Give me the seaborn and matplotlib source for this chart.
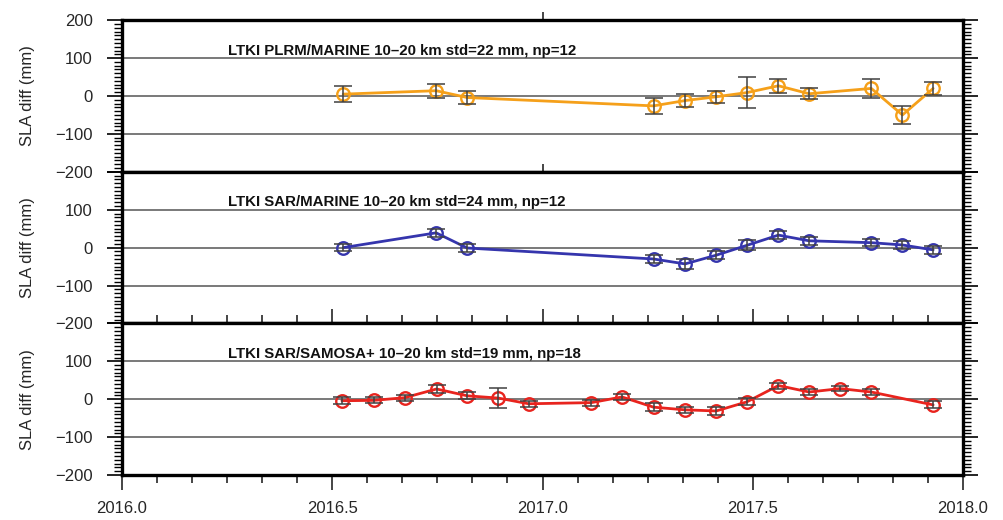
import numpy as np
import pandas as pd
import seaborn as sns
import matplotlib
matplotlib.use("Agg")
import matplotlib.pyplot as plt
from matplotlib.ticker import MultipleLocator, FixedLocator

# ---------------- data ----------------
plrm_t = [2016.526, 2016.747, 2016.821, 2017.264, 2017.339, 2017.413,
          2017.486, 2017.561, 2017.634, 2017.782, 2017.856, 2017.929]
plrm_y = [5, 14, -4, -26, -12, -2, 9, 27, 6, 20, -50, 20]
plrm_e = [22, 19, 17, 21, 18, 16, 40, 18, 15, 24, 24, 16]

sar_t = [2016.526, 2016.747, 2016.821, 2017.264, 2017.339, 2017.413,
         2017.486, 2017.561, 2017.634, 2017.782, 2017.856, 2017.929]
sar_y = [0, 39, -1, -30, -43, -20, 6, 33, 18, 13, 7, -6]
sar_e = [9, 10, 10, 10, 13, 10, 13, 10, 10, 10, 10, 10]

samosa_t = [2016.523, 2016.599, 2016.672, 2016.748, 2016.821, 2016.895,
            2016.967, 2017.116, 2017.189, 2017.264, 2017.339, 2017.413,
            2017.486, 2017.561, 2017.634, 2017.708, 2017.782, 2017.929]
samosa_y = [-4, -3, 4, 27, 9, 3, -12, -9, 6, -21, -28, -31, -7, 36, 19, 28, 19, -15]
samosa_e = [9, 8, 8, 10, 9, 26, 8, 8, 9, 10, 8, 10, 9, 8, 8, 7, 8, 9]

labels = ["LTKI PLRM/MARINE 10\u201320 km std=22 mm, np=12",
          "LTKI SAR/MARINE 10\u201320 km std=24 mm, np=12",
          "LTKI SAR/SAMOSA+ 10\u201320 km std=19 mm, np=18"]
colors = ["#F5A01A", "#3535AD", "#E8241E"]
ylabel = "SLA diff (mm)"
ytick_values = [-200, -100, 0, 100, 200]
ytick_labels = ["\u2212200", "\u2212100", "0", "100", "200"]
xtick_values = [2016.0, 2016.5, 2017.0, 2017.5, 2018.0]
xtick_labels = ["2016.0", "2016.5", "2017.0", "2017.5", "2018.0"]

# ---------------- style ----------------
sns.set_style("white")
plt.rcParams['font.family'] = ['Liberation Sans', 'DejaVu Sans']

fig = plt.figure(figsize=(10.04, 5.2), dpi=100)
left, width = 122 / 1004, 841 / 1004
ph = 151.6 / 520
bottoms = [0.0865 + 2 * ph, 0.0865 + ph, 0.0865]

series = [(plrm_t, plrm_y, plrm_e), (sar_t, sar_y, sar_e), (samosa_t, samosa_y, samosa_e)]
axes = []
for i, ((t, y, e), col, lab) in enumerate(zip(series, colors, labels)):
    ax = fig.add_axes([left, bottoms[i], width, ph])
    axes.append(ax)
    df = pd.DataFrame({"t": t, "y": y, "e": e})
    for g in (100, 0, -100):
        ax.axhline(g, color="#555555", lw=1.1, zorder=1)
    sns.lineplot(data=df, x="t", y="y", ax=ax, color=col, lw=2.0,
                 marker="o", markersize=9, markerfacecolor="none",
                 markeredgecolor=col, markeredgewidth=1.7, zorder=3)
    ax.errorbar(df["t"], df["y"], yerr=df["e"], fmt="none", ecolor="#404040",
                elinewidth=1.1, capsize=6.5, capthick=1.1, zorder=4)
    ax.set_xlim(2016.0, 2018.0)
    ax.set_ylim(-200, 200)
    ax.set_xlabel("")
    ax.set_ylabel("")
    ax.text(2016.252, 120, lab, fontsize=10.8, fontweight="bold", va="center",
            ha="left", color="#111111", zorder=5)
    for s in ax.spines.values():
        s.set_linewidth(2.4)
        s.set_color("black")
    ax.set_yticks(ytick_values)
    ylabs = list(ytick_labels)
    if i > 0:
        ylabs[-1] = ""  # hidden behind the panel above's -200 label
    ax.set_yticklabels(ylabs)
    ax.yaxis.set_minor_locator(MultipleLocator(10))
    ax.tick_params(axis="y", which="both", direction="out", left=True, right=True,
                   labelleft=True, labelright=False, color="black")
    ax.tick_params(axis="y", which="major", length=11, width=1.2, labelsize=12, pad=10)
    ax.tick_params(axis="y", which="minor", length=5.5, width=1.0)
    if i == 0:
        ax.xaxis.set_major_locator(FixedLocator([2017.0]))
        ax.xaxis.set_minor_locator(FixedLocator([]))
        ax.tick_params(axis="x", which="major", direction="in", length=6, width=1.2,
                       bottom=True, top=False, labelbottom=False)
        sec = ax.secondary_xaxis("top")
        sec.set_xticks([2017.0])
        sec.tick_params(direction="out", length=6, width=1.2, labeltop=False)
        sec.spines["top"].set_visible(False)
    elif i == 1:
        ax.xaxis.set_major_locator(MultipleLocator(0.5))
        ax.xaxis.set_minor_locator(MultipleLocator(1 / 12))
        ax.tick_params(axis="x", which="both", direction="in", bottom=True, top=False,
                       labelbottom=False)
        ax.tick_params(axis="x", which="major", length=10, width=1.2)
        ax.tick_params(axis="x", which="minor", length=6, width=1.2)
    else:
        ax.set_xticks(xtick_values)
        ax.set_xticklabels(xtick_labels)
        ax.xaxis.set_minor_locator(MultipleLocator(1 / 12))
        ax.tick_params(axis="x", which="both", direction="out", bottom=True, top=False)
        ax.tick_params(axis="x", which="major", length=11, width=1.2, labelsize=12, pad=8)
        ax.tick_params(axis="x", which="minor", length=6, width=1.2)
    fig.text(28 / 1004, bottoms[i] + ph / 2, ylabel, rotation=90, ha="center",
             va="center", fontsize=12)

fig.savefig("out.png", dpi=100)
